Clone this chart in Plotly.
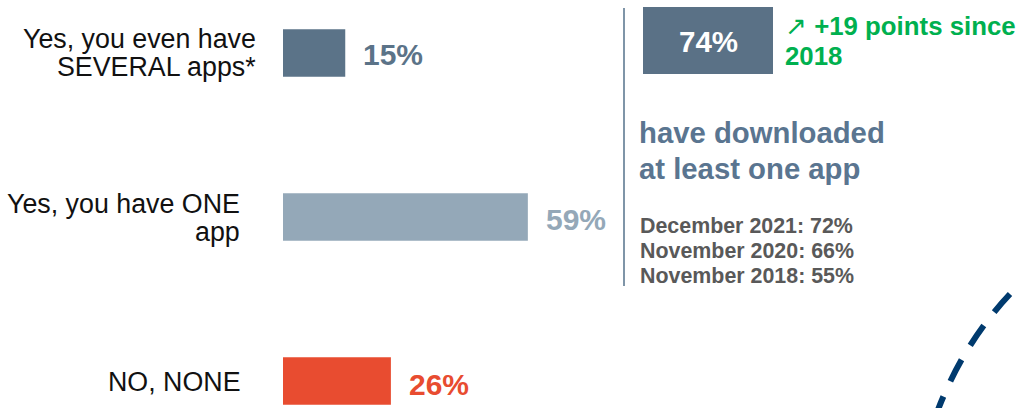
import plotly.graph_objects as go

# Survey answers, one bar per answer
categories = [
    ["Yes, you even have", "SEVERAL apps*"],
    ["Yes, you have ONE", "app"],
    ["NO, NONE"],
]
values = [15, 59, 26]
bar_colors = ["#5b7388", "#94a8b8", "#e84c30"]

# Side panel content
headline_value = "74%"
trend_lines = ["+19 points since", "2018"]
headline_caption = ["have downloaded", "at least one app"]
history = ["December 2021: 72%", "November 2020: 66%", "November 2018: 55%"]

W, H = 1019, 408
FONT = "Liberation Sans, Arial, sans-serif"
positions = list(range(len(values)))


def px(x):
    return x / W


def py(y):
    return 1 - y / H


fig = go.Figure(
    go.Bar(
        x=values,
        y=positions,
        orientation="h",
        width=0.29,
        marker=dict(color=bar_colors, line=dict(width=0)),
        hoverinfo="skip",
    )
)

annotations = []

# Category labels to the left of each bar, right aligned
label_shift = [-26, -42, -41]
label_center = [0, 1, 1]
for i, lines in enumerate(categories):
    n = len(lines)
    for j, line in enumerate(lines):
        offset = (j - (n - 1) / 2) * 28 + label_center[i]
        annotations.append(dict(
            x=0, y=positions[i], xref="x", yref="y",
            text=line, showarrow=False, xanchor="right", yanchor="middle",
            xshift=label_shift[i], yshift=-offset, borderpad=0,
            font=dict(family=FONT, size=26.8, color="#111111"),
        ))

# Value labels at the end of each bar
value_dy = [2, 2.5, 4]
for i, v in enumerate(values):
    annotations.append(dict(
        x=v, y=positions[i], xref="x", yref="y",
        text=f"<b>{v}%</b>", showarrow=False, xanchor="left", yanchor="middle",
        xshift=17, yshift=-value_dy[i], borderpad=0,
        font=dict(family=FONT, size=30, color=bar_colors[i]),
    ))

# Headline figure inside its box
annotations.append(dict(
    x=px(708), y=py(42), xref="paper", yref="paper",
    text=f"<b>{headline_value}</b>", showarrow=False,
    xanchor="center", yanchor="middle", borderpad=0,
    font=dict(family=FONT, size=29.5, color="#ffffff"),
))

# Trend note
trend_y = [26, 56]
for j, line in enumerate(trend_lines):
    txt = f"↗ <b>{line}</b>" if j == 0 else f"<b>{line}</b>"
    annotations.append(dict(
        x=px(784), y=py(trend_y[j]), xref="paper", yref="paper",
        text=txt, showarrow=False, xanchor="left", yanchor="middle", borderpad=0,
        font=dict(family=FONT, size=25.8, color="#00b04f"),
    ))

# Caption under the headline
cap_y = [133, 168]
for j, line in enumerate(headline_caption):
    annotations.append(dict(
        x=px(638), y=py(cap_y[j]), xref="paper", yref="paper",
        text=f"<b>{line}</b>", showarrow=False, xanchor="left", yanchor="middle",
        borderpad=0,
        font=dict(family=FONT, size=29.3, color="#5a7590"),
    ))

# Earlier waves
hist_y = [225.5, 250.8, 275.8]
for j, line in enumerate(history):
    annotations.append(dict(
        x=px(639), y=py(hist_y[j]), xref="paper", yref="paper",
        text=f"<b>{line}</b>", showarrow=False, xanchor="left", yanchor="middle",
        borderpad=0,
        font=dict(family=FONT, size=21.4, color="#595959"),
    ))

shapes = [
    # separator between the bars and the side panel
    dict(type="line", xref="paper", yref="paper",
         x0=px(624), x1=px(624), y0=py(8), y1=py(286),
         line=dict(color="#7f95a8", width=2)),
    # headline box
    dict(type="rect", xref="paper", yref="paper",
         x0=px(643), x1=px(773), y0=py(74), y1=py(7),
         fillcolor="#5a7186", line=dict(width=0), layer="below"),
    # decorative dashed arc in the corner
    dict(type="path", xref="paper", yref="paper",
         path=(f"M {px(1010)},{py(294)} "
               f"Q {px(962)},{py(345)} {px(936)},{py(415)}"),
         line=dict(color="#003a6e", width=6, dash="24px,17px")),
]

x_scale = 4.15  # pixels per percentage point
fig.update_layout(
    width=W, height=H,
    margin=dict(l=0, r=0, t=0, b=0),
    paper_bgcolor="#ffffff", plot_bgcolor="#ffffff",
    showlegend=False,
    xaxis=dict(domain=[px(283), px(283 + x_scale * 100)], range=[0, 100],
               visible=False, fixedrange=True),
    yaxis=dict(range=[2.165, -0.323], visible=False, fixedrange=True),
    annotations=annotations,
    shapes=shapes,
)

fig.write_html("out.html", config={"displayModeBar": False})
